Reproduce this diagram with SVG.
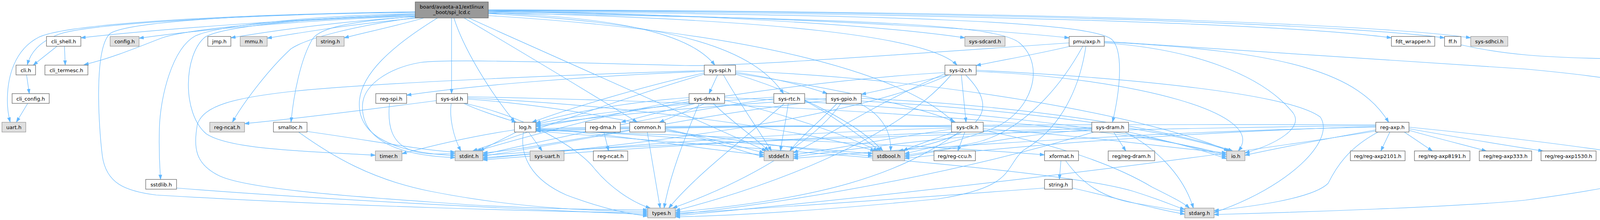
<svg xmlns="http://www.w3.org/2000/svg" width="4403" height="564" viewBox="0 0 4403 564">
<style>
.e path{fill:none;stroke:#63b8ff;stroke-width:1.2;marker-end:url(#ah)}
.w rect{fill:#ffffff;stroke:#666666;stroke-width:1.3}
.g rect{fill:#e0e0e0;stroke:#999999;stroke-width:1.3}
.m rect{fill:#999999;stroke:#666666;stroke-width:1.3}
text{font-family:"DejaVu Sans","Liberation Sans",sans-serif;font-size:13px;text-anchor:middle;fill:#000000}
</style>
<defs>
<marker id="ah" markerWidth="14" markerHeight="10" refX="12" refY="4.5" orient="auto" markerUnits="userSpaceOnUse"><path d="M0,0.5L12,4.5L0,8.5z" fill="#63b8ff" stroke="#63b8ff" stroke-width="1"/></marker>
</defs>
<rect x="0" y="0" width="4403" height="564" fill="#ffffff"/>
<g id="edges" class="e">
<path d="M1063,30C550,38 170,62 100,95C35,128 20,200 19,250C18,280 22,298 26,313"/>
<path d="M1063,31C600,38 220,62 150,88C100,108 78,135 70,166"/>
<path d="M1063,36C750,50 400,75 207,97"/>
<path d="M1063,40C700,50 470,78 415,97C360,118 290,148 215,166"/>
<path d="M1063,41C800,50 520,75 356,98"/>
<path d="M1063,43C900,52 720,75 591,97"/>
<path d="M1070,46C900,62 780,82 684,98"/>
<path d="M1085,46C1020,65 940,82 881,97"/>
<path d="M1063,42C900,55 820,70 800,100C770,150 752,240 745,313"/>
<path d="M1063,35C800,40 560,65 500,92C440,125 410,250 408,330C406,400 410,440 411,460"/>
<path d="M1063,38C800,44 570,68 525,95C470,140 465,290 528,343C590,385 800,388 961,398"/>
<path d="M1063,32C600,36 330,58 283,85C240,120 252,320 262,400C272,470 320,490 400,500C900,530 1400,542 1658,546"/>
<path d="M1063,45C920,65 790,95 745,125C690,175 625,260 595,313"/>
<path d="M1120,46C1000,120 925,190 920,260C915,340 990,390 1165,399"/>
<path d="M1156,46L1156,240"/>
<path d="M1162,46C1185,120 1250,230 1318,313"/>
<path d="M1188,46C1330,130 1480,220 1631,313"/>
<path d="M1200,46C1450,160 1700,270 1962,387"/>
<path d="M1250,33C1600,45 1770,90 1830,167"/>
<path d="M1250,35C1750,60 1930,130 2006,240"/>
<path d="M1250,32C2000,50 2380,95 2450,167"/>
<path d="M1250,40C1900,80 2300,180 2442,313"/>
<path d="M1250,29C2300,38 2780,55 2845,100C2875,125 2870,220 2848,313"/>
<path d="M1250,30C2000,42 2500,72 2737,97"/>
<path d="M1250,28C1900,38 2300,72 2470,97"/>
<path d="M1250,27C2500,35 3300,62 3562,97"/>
<path d="M1250,26C2800,32 3500,70 3698,97"/>
<path d="M1250,25C2800,29 3550,66 3765,97"/>
<path d="M1250,34C2300,48 2560,68 2610,110C2680,170 2640,290 2540,330C2460,360 2380,380 2316,394"/>
<path d="M146,118.5L85,167"/>
<path d="M165,118.5L167,167"/>
<path d="M68,192L75,240"/>
<path d="M71,265L42,313"/>
<path d="M3740,115C3850,140 3950,148 4150,151C4240,153 4290,160 4329,170"/>
<path d="M1546,338.5L1558,387"/>
<path d="M2716,412L2712,460"/>
<path d="M2728,412C2770,470 2820,505 2900,520C2960,530 3000,538 3033,542"/>
<path d="M2674,482C2300,510 1950,535 1729,547"/>
<path d="M2745,482C2850,505 2950,535 3033,549"/>
<path d="M452,482C800,510 1300,535 1658,550"/>
<path d="M997,265C992,320 1000,370 1060,388C1100,398 1130,394 1165,394"/>
<path d="M786,337C950,360 1080,385 1165,390"/>
<path d="M765,339C850,400 950,460 1100,490C1300,530 1500,542 1658,542"/>
<path d="M1117,258C950,280 750,305 626,317"/>
<path d="M1155,265C1150,300 1160,350 1180,387"/>
<path d="M1187,265C1230,285 1280,300 1322,313.5"/>
<path d="M1197,254C1500,275 1800,350 1956,392"/>
<path d="M1197,251C1600,270 2050,330 2240,387"/>
<path d="M1197,248C1800,260 2800,300 3140,397"/>
<path d="M1190,265C1350,300 1480,380 1520,430C1560,480 1620,520 1665,533.5"/>
<path d="M1317,333C1200,350 1100,375 1029,394"/>
<path d="M1322,338.5C1290,355 1255,372 1228,387"/>
<path d="M1353,338.5L1388,387"/>
<path d="M1340,338.5C1330,400 1360,460 1450,500C1530,530 1600,548 1658,554"/>
<path d="M1372,330C1600,345 1800,385 1956,397"/>
<path d="M1372,332C1700,345 2050,380 2234,394"/>
<path d="M1372,334C1900,350 2400,375 2674,397"/>
<path d="M1372,336C1900,380 2700,430 2900,490C2980,515 3010,530 3033,537"/>
<path d="M1657,338.5L1690,533.5"/>
<path d="M1612,333C1450,360 1330,385 1236,392"/>
<path d="M1703,333C1800,350 1900,390 1956,402"/>
<path d="M1703,336C1900,360 2100,390 2234,400"/>
<path d="M1782,265C1700,285 1640,300 1590,313.5"/>
<path d="M1806,265L1688,313.5"/>
<path d="M1826,265C1870,310 1930,350 1968,387"/>
<path d="M1764,255C1600,280 1350,350 1220,387"/>
<path d="M1764,250C1600,262 1450,290 1372,316"/>
<path d="M1855,257C2000,290 2150,340 2248,387"/>
<path d="M1855,250C2300,270 2900,320 3140,402"/>
<path d="M1790,265C1750,360 1715,450 1700,533.5"/>
<path d="M1837,192L1815,240"/>
<path d="M1852,192C1890,260 1940,330 1975,387"/>
<path d="M1803,183C1500,195 1200,220 1041,244"/>
<path d="M1883,185C1980,200 2060,220 2118,240"/>
<path d="M1883,188C2100,220 2350,270 2446,313.5"/>
<path d="M1803,190C1600,250 1350,340 1210,387"/>
<path d="M1803,187C1650,220 1450,280 1362,313.5"/>
<path d="M1883,190C2050,240 2200,320 2260,387"/>
<path d="M1883,182C2400,200 2950,300 3145,387"/>
<path d="M1803,181C1500,190 1000,210 760,233C600,250 520,270 505,320C495,380 500,420 560,450C640,490 1000,510 1200,525C1400,536 1550,538 1658,538"/>
<path d="M2018,265C2012,310 2003,350 1998,387"/>
<path d="M2008,265C1900,360 1780,450 1712,533.5"/>
<path d="M1981,253C1700,290 1400,360 1236,396"/>
<path d="M2060,258C2140,300 2200,350 2255,387"/>
<path d="M2060,252C2500,270 2950,320 3150,387"/>
<path d="M1981,249C1700,268 1450,298 1372,319"/>
<path d="M2143,265C2100,310 2050,350 2022,387"/>
<path d="M2200,265C2250,290 2282,330 2280,387"/>
<path d="M2153,265C2080,370 1900,470 1722,533.5"/>
<path d="M2115,258C1800,290 1450,370 1236,400"/>
<path d="M2205,252C2600,270 2950,320 3156,387"/>
<path d="M2115,253C1800,272 1500,300 1372,322"/>
<path d="M2430,192C2350,210 2270,228 2205,242"/>
<path d="M2461,192L2473,313.5"/>
<path d="M2472,192C2540,260 2560,340 2300,387"/>
<path d="M2428,192C2200,300 1600,380 1236,404"/>
<path d="M2419,186C2000,210 1600,290 1372,325"/>
<path d="M2419,189C2250,260 2100,360 2031,392"/>
<path d="M2499,183C2900,200 3250,290 3170,387"/>
<path d="M2499,180C2900,200 3300,240 3380,300C3420,360 3300,480 3108,545"/>
<path d="M2435,192C2300,350 2000,470 1729,540"/>
<path d="M2470,338.5L2452,387"/>
<path d="M2440,338.5C2400,355 2340,372 2312,387"/>
<path d="M2436,331C2300,350 2150,380 2031,397"/>
<path d="M2436,328C2000,340 1500,380 1236,407"/>
<path d="M2455,338.5C2300,450 2100,510 1729,544"/>
<path d="M2517,330C2800,350 3000,380 3140,392"/>
<path d="M2436,325C2000,320 1600,324 1372,330"/>
<path d="M2517,334C2700,370 2850,420 2950,480C3000,505 3030,520 3045,533.5"/>
<path d="M2851,338.5L2882,387"/>
<path d="M2889,338.5C2980,360 3060,378 3140,407"/>
<path d="M2880,338.5C2960,380 3030,450 3055,533.5"/>
<path d="M2795,330C2200,340 1600,380 1236,410"/>
<path d="M2795,332C2600,345 2450,380 2316,402"/>
<path d="M2795,328C2500,340 2200,380 2031,402"/>
<path d="M2800,338.5C2500,430 2100,510 1729,550"/>
<path d="M2795,326C2200,320 1600,326 1372,333"/>
<path d="M3558,338.5L3535,387"/>
<path d="M3595,338.5L3667,387"/>
<path d="M3607,334C3680,355 3750,372 3805,387"/>
<path d="M3607,330C3720,350 3850,372 3950,387"/>
<path d="M3607,326C3800,345 4000,370 4115,387"/>
<path d="M3522,333C3400,355 3280,378 3187,398"/>
<path d="M3528,338.5C3450,380 3420,430 3400,470C3360,510 3200,530 3108,540"/>
<path d="M3522,322C2800,330 1800,360 1236,398"/>
<path d="M3522,324C3000,340 2600,375 2316,406"/>
<path d="M3522,326C3000,335 2400,375 2031,406"/>
<path d="M3522,336C3000,420 2200,510 1729,553"/>
<path d="M3522,320C2800,318 1800,322 1372,336"/>
<path d="M2740,118.5C2650,140 2560,155 2499,168"/>
<path d="M2827,108C3300,130 3480,190 3555,313.5"/>
<path d="M2772,118.5C2700,250 2600,340 2500,365C2420,382 2360,392 2316,398"/>
<path d="M2780,118.5C2760,250 2700,340 2620,385C2570,430 2600,480 2400,510C2100,540 1900,552 1729,556"/>
<path d="M2737,110C2300,140 1900,170 1754,168C1500,162 1150,150 1077,160C990,175 930,220 928,270C925,350 1000,398 1165,404"/>
<path d="M2827,110C3050,125 3230,190 3310,289C3340,330 3260,372 3187,392"/>
<path d="M2827,106C3100,125 3500,150 3905,177C4100,195 4291,220 4291,260L4291,405C4291,450 4150,480 3905,513C3750,530 3300,545 3108,550"/>
</g>
<g id="n-main" class="m"><rect x="1063" y="5" width="187" height="41"/><text x="1156.5" y="21.5">board/avaota-a1/extlinux</text><text x="1156.5" y="36">_boot/spi_lcd.c</text></g>
<g id="n-cli-shell" class="w"><rect x="119" y="93.5" width="88" height="25"/><text x="163" y="111">cli_shell.h</text></g>
<g id="n-config" class="g"><rect x="282" y="93.5" width="74" height="25"/><text x="319" y="111">config.h</text></g>
<g id="n-jmp" class="w"><rect x="532" y="93.5" width="59" height="25"/><text x="561.5" y="111">jmp.h</text></g>
<g id="n-mmu" class="g"><rect x="615" y="93.5" width="69" height="25"/><text x="649.5" y="111">mmu.h</text></g>
<g id="n-string-g" class="g"><rect x="810" y="93.5" width="71" height="25"/><text x="845.5" y="111">string.h</text></g>
<g id="n-sdcard" class="g"><rect x="2470" y="93.5" width="103" height="25"/><text x="2521.5" y="111">sys-sdcard.h</text></g>
<g id="n-axp" class="w"><rect x="2737" y="93.5" width="90" height="25"/><text x="2782" y="111">pmu/axp.h</text></g>
<g id="n-fdt" class="w"><rect x="3562" y="93.5" width="111" height="25"/><text x="3617.5" y="111">fdt_wrapper.h</text></g>
<g id="n-ff" class="w"><rect x="3698" y="93.5" width="42" height="25"/><text x="3719" y="111">ff.h</text></g>
<g id="n-sdhci" class="g"><rect x="3765" y="93.5" width="95" height="25"/><text x="3812.5" y="111">sys-sdhci.h</text></g>
<g id="n-cli" class="w"><rect x="41" y="167" width="50" height="25"/><text x="66" y="184.5">cli.h</text></g>
<g id="n-cli-termesc" class="w"><rect x="115" y="167" width="110" height="25"/><text x="170" y="184.5">cli_termesc.h</text></g>
<g id="n-spi" class="w"><rect x="1803" y="167" width="80" height="25"/><text x="1843" y="184.5">sys-spi.h</text></g>
<g id="n-i2c" class="w"><rect x="2419" y="167" width="80" height="25"/><text x="2459" y="184.5">sys-i2c.h</text></g>
<g id="n-ffconf" class="w"><rect x="4329" y="167" width="70" height="25"/><text x="4364" y="184.5">ffconf.h</text></g>
<g id="n-cli-config" class="w"><rect x="31" y="240" width="95" height="25"/><text x="78.5" y="257.5">cli_config.h</text></g>
<g id="n-reg-spi" class="w"><rect x="962" y="240" width="79" height="25"/><text x="1001.5" y="257.5">reg-spi.h</text></g>
<g id="n-sid" class="w"><rect x="1117" y="240" width="80" height="25"/><text x="1157" y="257.5">sys-sid.h</text></g>
<g id="n-dma" class="w"><rect x="1764" y="240" width="91" height="25"/><text x="1809.5" y="257.5">sys-dma.h</text></g>
<g id="n-rtc" class="w"><rect x="1981" y="240" width="79" height="25"/><text x="2020.5" y="257.5">sys-rtc.h</text></g>
<g id="n-gpio" class="w"><rect x="2115" y="240" width="90" height="25"/><text x="2160" y="257.5">sys-gpio.h</text></g>
<g id="n-uart" class="g"><rect x="5" y="313.5" width="61" height="25"/><text x="35.5" y="331">uart.h</text></g>
<g id="n-ncat-g" class="g"><rect x="537" y="313.5" width="89" height="25"/><text x="581.5" y="331">reg-ncat.h</text></g>
<g id="n-smalloc" class="w"><rect x="700" y="313.5" width="86" height="25"/><text x="743" y="331">smalloc.h</text></g>
<g id="n-log" class="w"><rect x="1317" y="313.5" width="55" height="25"/><text x="1344.5" y="331">log.h</text></g>
<g id="n-reg-dma" class="w"><rect x="1499" y="313.5" width="89" height="25"/><text x="1543.5" y="331">reg-dma.h</text></g>
<g id="n-common" class="w"><rect x="1612" y="313.5" width="91" height="25"/><text x="1657.5" y="331">common.h</text></g>
<g id="n-clk" class="w"><rect x="2436" y="313.5" width="81" height="25"/><text x="2476.5" y="331">sys-clk.h</text></g>
<g id="n-dram" class="w"><rect x="2795" y="313.5" width="94" height="25"/><text x="2842" y="331">sys-dram.h</text></g>
<g id="n-reg-axp" class="w"><rect x="3522" y="313.5" width="85" height="25"/><text x="3564.5" y="331">reg-axp.h</text></g>
<g id="n-timer" class="g"><rect x="961" y="387" width="68" height="25"/><text x="995" y="404.5">timer.h</text></g>
<g id="n-stdint" class="g"><rect x="1165" y="387" width="71" height="25"/><text x="1200.5" y="404.5">stdint.h</text></g>
<g id="n-sys-uart" class="g"><rect x="1357" y="387" width="87" height="25"/><text x="1400.5" y="404.5">sys-uart.h</text></g>
<g id="n-ncat-w" class="w"><rect x="1519" y="387" width="88" height="25"/><text x="1563" y="404.5">reg-ncat.h</text></g>
<g id="n-stddef" class="g"><rect x="1956" y="387" width="75" height="25"/><text x="1993.5" y="404.5">stddef.h</text></g>
<g id="n-stdbool" class="g"><rect x="2234" y="387" width="82" height="25"/><text x="2275" y="404.5">stdbool.h</text></g>
<g id="n-ccu" class="w"><rect x="2391" y="387" width="106" height="25"/><text x="2444" y="404.5">reg/reg-ccu.h</text></g>
<g id="n-xformat" class="w"><rect x="2674" y="387" width="87" height="25"/><text x="2717.5" y="404.5">xformat.h</text></g>
<g id="n-reg-dram" class="w"><rect x="2837" y="387" width="119" height="25"/><text x="2896.5" y="404.5">reg/reg-dram.h</text></g>
<g id="n-io" class="g"><rect x="3140" y="387" width="47" height="25"/><text x="3163.5" y="404.5">io.h</text></g>
<g id="n-axp2101" class="w"><rect x="3457" y="387" width="140" height="25"/><text x="3527" y="404.5">reg/reg-axp2101.h</text></g>
<g id="n-axp8191" class="w"><rect x="3621" y="387" width="142" height="25"/><text x="3692" y="404.5">reg/reg-axp8191.h</text></g>
<g id="n-axp333" class="w"><rect x="3787" y="387" width="134" height="25"/><text x="3854" y="404.5">reg/reg-axp333.h</text></g>
<g id="n-axp1530" class="w"><rect x="3945" y="387" width="141" height="25"/><text x="4015.5" y="404.5">reg/reg-axp1530.h</text></g>
<g id="n-axp2202" class="w"><rect x="4110" y="387" width="141" height="25"/><text x="4180.5" y="404.5">reg/reg-axp2202.h</text></g>
<g id="n-sstdlib" class="w"><rect x="373" y="460" width="79" height="25"/><text x="412.5" y="477.5">sstdlib.h</text></g>
<g id="n-string-w" class="w"><rect x="2674" y="460" width="71" height="25"/><text x="2709.5" y="477.5">string.h</text></g>
<g id="n-types" class="g"><rect x="1658" y="533.5" width="71" height="25"/><text x="1693.5" y="551">types.h</text></g>
<g id="n-stdarg" class="g"><rect x="3033" y="533.5" width="75" height="25"/><text x="3070.5" y="551">stdarg.h</text></g>
</svg>
